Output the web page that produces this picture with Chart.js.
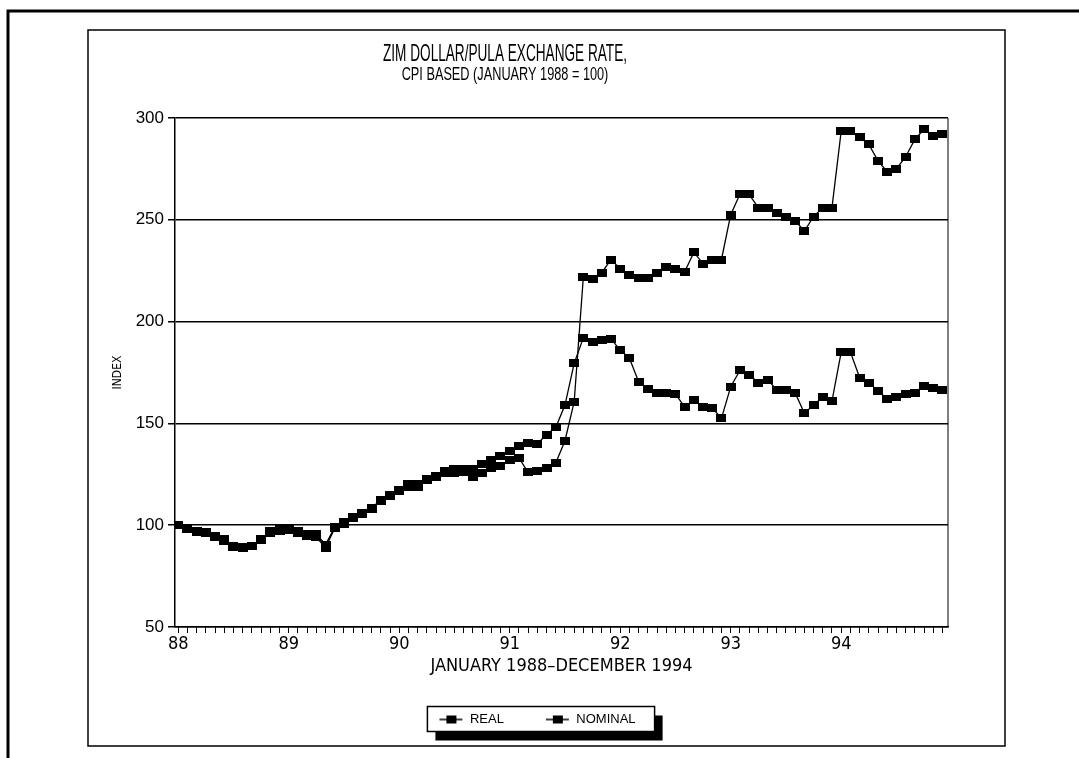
<!DOCTYPE html>
<html>
<head>
<meta charset="utf-8">
<script src="https://cdn.jsdelivr.net/npm/chart.js@4.4.1/dist/chart.umd.min.js"></script>
<style>
html,body{margin:0;padding:0;background:#fff;}
#wrap{position:relative;width:1079px;height:758px;}
</style>
</head>
<body>
<div id="wrap"><canvas id="c" width="1079" height="758"></canvas></div>
<script>
// ---- data (monthly, January 1988 - December 1994) ----
const titleText = 'ZIM DOLLAR/PULA EXCHANGE RATE,';
const subtitleText = 'CPI BASED (JANUARY 1988 = 100)';
const xTitle = 'JANUARY 1988\u2013DECEMBER 1994';
const yTitle = 'INDEX';
const yearLabels = ['88','89','90','91','92','93','94'];
const yTicks = [50, 100, 150, 200, 250, 300];
const seriesNames = ['REAL', 'NOMINAL'];

const real = [
  100, 98.5, 96.5, 96.5, 94.5, 92, 90, 89, 90, 92.5, 97, 98,
  98.5, 97, 95.5, 95.5, 90.5, 99, 101.5, 104, 106, 108.5, 112.5, 115,
  117.5, 120, 120, 122.5, 124, 126.5, 127.5, 127.5, 127.5, 130, 132, 134,
  136.5, 139, 140.5, 140, 144.5, 148, 159, 179.5, 192, 190, 191, 191.5,
  186, 182, 170.5, 167, 165, 165, 164.5, 158, 161.5, 158, 157.5, 152.5,
  168, 176, 174, 170, 171.5, 166.5, 166.5, 165, 155, 159, 163, 161,
  185, 185, 172.5, 170, 166, 162, 163, 164.5, 165, 168.5, 167.5, 166.5
];
const nominal = [
  100, 98, 97, 96, 94, 93, 89.5, 89.5, 90, 93, 96, 97,
  97.5, 96, 94.5, 94, 89, 98.5, 100.5, 103.5, 105.5, 108, 112, 114.5,
  117, 119, 119, 122, 123.5, 125.5, 125.5, 126, 123.5, 125.5, 128, 129,
  132, 133, 126, 126.5, 128, 130.5, 141.5, 160.5, 222, 221, 224, 230.5,
  226, 223, 221.5, 221.5, 224, 227, 226, 224.5, 234, 228.5, 230.5, 230.5,
  252.5, 262.5, 262.5, 256, 256, 253.5, 251.5, 249.5, 244.5, 251.5, 256, 256,
  293.5, 293.5, 290.5, 287, 279, 273.5, 275, 281, 289.5, 294.5, 291, 292
];

// ---- styling helpers ----
const COND = "'DejaVu Sans Condensed', 'Liberation Sans Narrow', sans-serif";
const REG = "'Liberation Sans', 'DejaVu Sans', sans-serif";
const LEGEND_SHIFT = -30;

function markerImg(w, h) {
  const c = document.createElement('canvas');
  c.width = w; c.height = h;
  const g = c.getContext('2d');
  g.fillStyle = '#000';
  g.fillRect(0, 0, w, h);
  return c;
}
function legendImg() {
  const c = document.createElement('canvas');
  c.width = 36; c.height = 10;
  const g = c.getContext('2d');
  g.strokeStyle = '#000'; g.lineWidth = 1.5;
  g.beginPath(); g.moveTo(12, 5); g.lineTo(35, 5); g.stroke();
  g.fillStyle = '#000'; g.fillRect(19, 1, 10, 8);
  return c;
}
const pointImg = markerImg(10, 8);
const legImg = legendImg();

const toXY = arr => arr.map((v, i) => ({x: i, y: v}));

// horizontally condense the title texts, shift the legend a little
const squeezePlugin = {
  id: 'squeeze',
  afterLayout(chart) {
    chart.boxes.forEach(b => {
      if (b._squeezed) return;
      let sx = 0, dx = 0;
      if (b.options && b.options.text === titleText) sx = 0.567;
      else if (b.options && b.options.text === subtitleText) sx = 0.67;
      else if (b === chart.legend) dx = LEGEND_SHIFT;
      else return;
      const orig = b.draw.bind(b);
      b.draw = function (area) {
        const ctx = chart.ctx;
        ctx.save();
        if (sx) {
          const cx = (b.left + b.right) / 2;
          ctx.translate(cx, 0); ctx.scale(sx, 1); ctx.translate(-cx, 0);
        }
        if (dx) ctx.translate(dx, 0);
        orig(area);
        ctx.restore();
      };
      b._squeezed = true;
    });
  }
};

const framePlugin = {
  id: 'frames',
  beforeDraw(chart) {
    const ctx = chart.ctx;
    ctx.save();
    ctx.fillStyle = '#fff';
    ctx.fillRect(0, 0, chart.width, chart.height);
    ctx.strokeStyle = '#000';
    // outer frame (top + left)
    ctx.lineWidth = 3;
    ctx.beginPath();
    ctx.moveTo(1079, 11); ctx.lineTo(8, 11); ctx.lineTo(8, 758);
    ctx.stroke();
    // inner box
    ctx.lineWidth = 1.5;
    ctx.strokeRect(88, 30, 1005 - 88, 746 - 30);
    // legend frame with shadow
    const lg = chart.legend;
    if (lg && lg.lineWidths) {
      const pad = lg.options.labels.padding;
      const fs = lg.options.labels.font.size;
      const span = lg.lineWidths[0] - pad;
      const cx = (lg.left + lg.right) / 2 + LEGEND_SHIFT;
      const cy = lg.top + pad + fs / 2;
      const x = cx - span / 2 + 12 - 12;
      const w = (cx + span / 2 + 19) - x;
      const y = cy - 13, h = 25;
      ctx.fillStyle = '#000';
      ctx.fillRect(x + 8, y + 9, w, h);
      ctx.fillStyle = '#fff';
      ctx.fillRect(x, y, w, h);
      ctx.lineWidth = 1.5;
      ctx.strokeRect(x, y, w, h);
    }
    ctx.restore();
  },
  afterDatasetsDraw(chart) {
    const {ctx, chartArea: a} = chart;
    ctx.save();
    ctx.strokeStyle = '#000';
    ctx.lineWidth = 1;
    ctx.beginPath();
    ctx.moveTo(a.right, a.top); ctx.lineTo(a.right, a.bottom);
    ctx.stroke();
    ctx.restore();
  }
};

const ds = (label, data) => ({
  label,
  data: toXY(data),
  borderColor: '#000',
  backgroundColor: '#000',
  borderWidth: 1.3,
  pointStyle: pointImg,
  pointRadius: 4,
  pointHoverRadius: 4,
  tension: 0,
  fill: false
});

new Chart(document.getElementById('c'), {
  type: 'line',
  data: {
    datasets: [ds(seriesNames[0], real), ds(seriesNames[1], nominal)]
  },
  plugins: [framePlugin, squeezePlugin],
  options: {
    responsive: false,
    animation: false,
    devicePixelRatio: 1,
    layout: { padding: { left: 62, right: 131, top: 44, bottom: 22 } },
    plugins: {
      title: {
        display: true,
        text: titleText,
        color: '#000',
        font: { family: REG, size: 24, weight: 'normal', lineHeight: 0.9 },
        padding: { top: 0, bottom: 0 }
      },
      subtitle: {
        display: true,
        text: subtitleText,
        color: '#000',
        font: { family: REG, size: 19, weight: 'normal', lineHeight: 1 },
        padding: { top: 0, bottom: 33.4 }
      },
      legend: {
        display: true,
        position: 'bottom',
        fullSize: false,
        labels: {
          color: '#000',
          font: { family: REG, size: 13, weight: 'normal', lineHeight: 1 },
          usePointStyle: true,
          pointStyle: legImg,
          pointStyleWidth: 36,
          padding: 30
        }
      },
      tooltip: { enabled: false }
    },
    scales: {
      x: {
        type: 'linear',
        min: -0.35,
        max: 83.6,
        ticks: {
          stepSize: 1,
          includeBounds: false,
          autoSkip: false,
          maxRotation: 0,
          padding: 2,
          color: '#000',
          font: { family: COND, size: 18, lineHeight: 1 },
          callback: v => (Number.isInteger(v) && v % 12 === 0) ? yearLabels[v / 12] : ''
        },
        grid: {
          display: true,
          drawOnChartArea: false,
          drawTicks: true,
          tickLength: 6,
          color: '#000',
          lineWidth: 1
        },
        border: { display: true, color: '#000', width: 1.5 },
        title: {
          display: true,
          text: xTitle,
          color: '#000',
          font: { family: COND, size: 18, lineHeight: 1 },
          padding: { top: 2, bottom: 8 }
        }
      },
      y: {
        type: 'linear',
        min: 50,
        max: 300,
        afterBuildTicks: s => { s.ticks = yTicks.map(v => ({value: v})); },
        afterFit: s => { s.width = 113; },
        ticks: {
          padding: 4,
          color: '#000',
          font: { family: REG, size: 17, lineHeight: 1 }
        },
        grid: {
          color: '#000',
          lineWidth: 1.5,
          tickLength: 7,
          drawTicks: true
        },
        border: { display: true, color: '#000', width: 1.5 },
        title: {
          display: true,
          text: yTitle,
          color: '#000',
          font: { family: COND, size: 12, lineHeight: 1 },
          padding: { top: 50, bottom: 0 }
        }
      }
    }
  }
});
</script>
</body>
</html>
